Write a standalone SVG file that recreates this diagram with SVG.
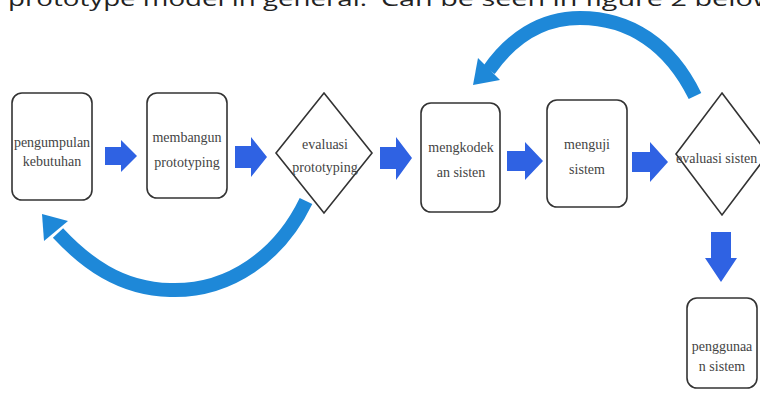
<svg xmlns="http://www.w3.org/2000/svg" width="760" height="394" viewBox="0 0 760 394">
<style>
.box{fill:#fff;stroke:#333;stroke-width:1.6}
.lbl{font-family:"Liberation Serif","Times New Roman",serif;font-size:14px;fill:#444;text-anchor:middle}
.blk{fill:#2f62e3}
.loop{fill:none;stroke:#1e88d8;stroke-width:14}
.head{fill:#1e88d8}
.cap{font-family:"Open Sans","Noto Sans",sans-serif;font-size:20px;fill:#222}
</style>
<rect width="760" height="394" fill="#fff"/>
<text class="cap" x="8" y="6" textLength="359" lengthAdjust="spacingAndGlyphs">prototype model in general.</text>
<text class="cap" x="381" y="6" textLength="394" lengthAdjust="spacingAndGlyphs">Can be seen in figure 2 below</text>

<g id="connectors">
<polygon class="blk" points="105,147 121,147 121,140 137,156 121,172 121,165 105,165"/>
<polygon class="blk" points="235,146 251,146 251,137 267,157 251,177 251,168 235,168"/>
<polygon class="blk" points="380,147 396,147 396,137 412,158 396,180 396,169 380,169"/>
<polygon class="blk" points="507,151 525,151 525,142 543,161 525,180 525,171 507,171"/>
<polygon class="blk" points="632,152 650,152 650,142 668,162 650,182 650,172 632,172"/>
<polygon class="blk" points="711,232 731,232 731,258 737,258 721,282 705,258 711,258"/>
<path class="loop" d="M306,201 C280,255 230,292 170,290 C120,289 85,262 58,233"/>
<polygon class="head" points="42,214 68,221 44,241"/>
<path class="loop" d="M695,96 C670,45 630,18 580,18 C540,18 510,40 489,70"/>
<polygon class="head" points="473,85 478,58 500,80"/>
</g>

<g id="n1">
<rect class="box" x="12" y="93" width="80" height="107" rx="10"/>
<text class="lbl" x="52" y="147">pengumpulan</text>
<text class="lbl" x="52" y="166">kebutuhan</text>
</g>
<g id="n2">
<rect class="box" x="147" y="93" width="80" height="105" rx="10"/>
<text class="lbl" x="187" y="142">membangun</text>
<text class="lbl" x="187" y="167">prototyping</text>
</g>
<g id="n3">
<polygon class="box" points="324,93 372,153 324,213 276,153"/>
<text class="lbl" x="325" y="149">evaluasi</text>
<text class="lbl" x="325" y="172">prototyping</text>
</g>
<g id="n4">
<rect class="box" x="421" y="103" width="79" height="109" rx="10"/>
<text class="lbl" x="461" y="152">mengkodek</text>
<text class="lbl" x="461" y="177">an sisten</text>
</g>
<g id="n5">
<rect class="box" x="547" y="100" width="80" height="107" rx="10"/>
<text class="lbl" x="587" y="149">menguji</text>
<text class="lbl" x="587" y="174">sistem</text>
</g>
<g id="n6">
<polygon class="box" points="722,93 768,154 722,215 676,154"/>
<text class="lbl" x="676" y="163" style="text-anchor:start">evaluasi sisten</text>
</g>
<g id="n7">
<rect class="box" x="687" y="298" width="70" height="90" rx="10"/>
<text class="lbl" x="722" y="351">penggunaa</text>
<text class="lbl" x="722" y="371">n sistem</text>
</g>
</svg>
